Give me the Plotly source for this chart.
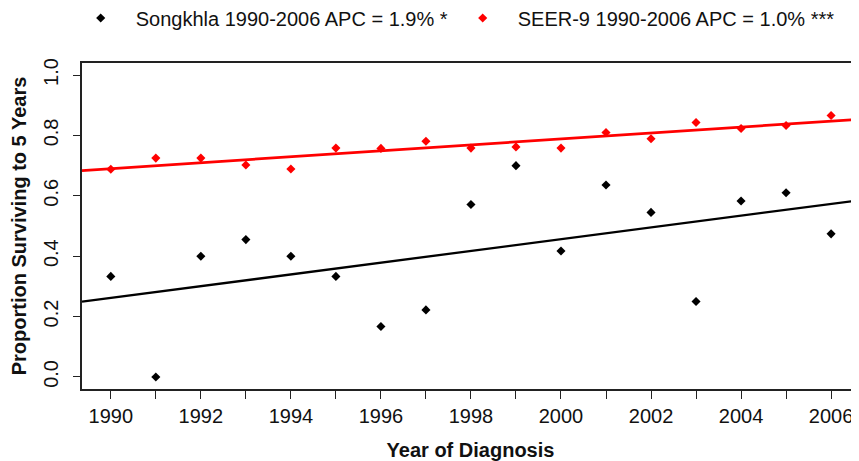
import numpy as np
import plotly.graph_objects as go

years = list(range(1990, 2007))
songkhla = [0.333, 0.0, 0.400, 0.455, 0.400, 0.333, 0.167, 0.222, 0.571,
            0.700, 0.417, 0.636, 0.545, 0.250, 0.583, 0.610, 0.474]
seer9 = [0.688, 0.725, 0.725, 0.702, 0.689, 0.758, 0.757, 0.781, 0.758,
         0.762, 0.758, 0.810, 0.789, 0.843, 0.823, 0.833, 0.866]
songkhla_label = "Songkhla 1990-2006 APC = 1.9% *"
seer9_label = "SEER-9 1990-2006 APC = 1.0% ***"
x_tick_vals = years
x_tick_text = [str(y) if y % 2 == 0 else "" for y in years]
y_tick_vals = [0.0, 0.2, 0.4, 0.6, 0.8, 1.0]
y_tick_text = ["0.0", "0.2", "0.4", "0.6", "0.8", "1.0"]

x_range = [1989.36, 2006.62]
y_range = [-0.04, 1.04]

FONT = "Liberation Sans, Arial, Helvetica, sans-serif"

# the page body has a default 8px margin; size the figure to fill the rest
OFF = 8
W, H = 859 - OFF, 461 - OFF

def fit_line(xs, ys):
    b, a = np.polyfit(xs, ys, 1)
    xx = np.array(x_range)
    return xx, a + b * xx

fig = go.Figure()

fx, fy = fit_line(years, seer9)
fig.add_trace(go.Scatter(x=fx, y=fy, mode="lines", line=dict(color="#ff0000", width=2.8),
                         showlegend=False, hoverinfo="skip"))
fx, fy = fit_line(years, songkhla)
fig.add_trace(go.Scatter(x=fx, y=fy, mode="lines", line=dict(color="#000000", width=2.3),
                         showlegend=False, hoverinfo="skip"))

fig.add_trace(go.Scatter(x=years, y=songkhla, mode="markers", name=songkhla_label,
                         marker=dict(symbol="diamond", size=7, color="#000000"),
                         legend="legend"))
fig.add_trace(go.Scatter(x=years, y=seer9, mode="markers", name=seer9_label,
                         marker=dict(symbol="diamond", size=7, color="#ff0000"),
                         legend="legend2"))

axis_font = dict(family=FONT, size=20, color="#111111")
legend_common = dict(orientation="h", xref="container", yref="container",
                     xanchor="left", yanchor="middle", y=1 - (18 - OFF) / H,
                     font=dict(family=FONT, size=20, color="#111111"),
                     bgcolor="rgba(0,0,0,0)", itemwidth=60,
                     tracegroupgap=0)

fig.update_layout(
    width=W, height=H,
    margin=dict(l=82 - OFF, r=0, t=63 - OFF, b=H - (389 - OFF), autoexpand=False),
    paper_bgcolor="white", plot_bgcolor="white",
    font=dict(family=FONT, color="#111111"),
    legend=dict(x=(100.7 - OFF - 35) / W, **legend_common),
    legend2=dict(x=(482.7 - OFF - 35) / W, **legend_common),
    xaxis=dict(range=x_range, tickvals=x_tick_vals, ticktext=x_tick_text,
               showgrid=False, zeroline=False, showline=True, linecolor="#222222",
               linewidth=1.5, mirror=True, ticks="outside", ticklen=8, tickwidth=1.3,
               tickcolor="#222222", tickfont=axis_font, automargin=False,
               title=dict(text="<b>Year of Diagnosis</b>", font=dict(family=FONT, size=20, color="#111111"),
                          standoff=19)),
    yaxis=dict(range=y_range, tickvals=y_tick_vals, ticktext=y_tick_text,
               showgrid=False, zeroline=False, showline=True, linecolor="#222222",
               linewidth=1.5, mirror=False, ticks="outside", ticklen=7, tickwidth=1.3,
               tickcolor="#222222", tickfont=axis_font, tickangle=-90, automargin=False,
               ticklabelstandoff=7,
               title=dict(text="<b>Proportion Surviving to 5 Years</b>",
                          font=dict(family=FONT, size=20, color="#111111"), standoff=17)),
)

fig.write_html("out.html")
